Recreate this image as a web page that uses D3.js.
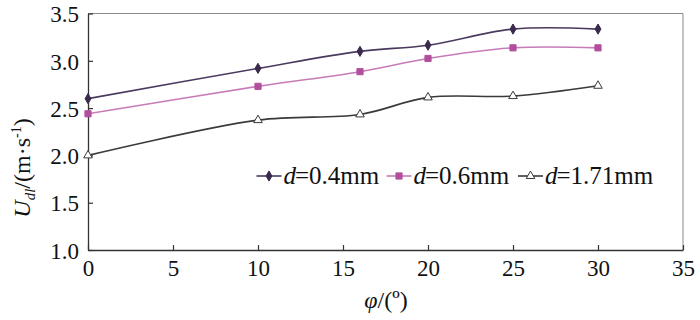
<!DOCTYPE html>
<html>
<head>
<meta charset="utf-8">
<script src="https://cdn.jsdelivr.net/npm/d3@7"></script>
<style>
  body { margin: 0; background: #fff; }
  text { font-family: "Liberation Serif", "Times New Roman", serif; }
</style>
</head>
<body>
<div id="chart"></div>
<script>
// angle values (deg)
var phi = [0, 10, 16, 20, 25, 30];
// U_dl for each droplet size
var u04 = [2.60, 2.92, 3.10, 3.165, 3.335, 3.335];
var u06 = [2.44, 2.73, 2.885, 3.025, 3.137, 3.137];
var u171 = [2.00, 2.373, 2.433, 2.613, 2.627, 2.736];
var seriesNames = ["0.4mm", "0.6mm", "1.71mm"];
var xTicks = [0, 5, 10, 15, 20, 25, 30, 35];
var yTicks = [1.0, 1.5, 2.0, 2.5, 3.0, 3.5];

var W = 700, H = 320;
var margin = {top: 13.5, right: 17, bottom: 70, left: 88},
    width = W - margin.left - margin.right,
    height = H - margin.top - margin.bottom;

var svg = d3.select("#chart")
  .append("svg")
    .attr("width", W)
    .attr("height", H)
  .append("g")
    .attr("transform", "translate(" + margin.left + "," + margin.top + ")");

var x = d3.scaleLinear().domain([0, 35]).range([0, width]);
var y = d3.scaleLinear().domain([1.0, 3.5]).range([height, 0]);

// box (top / right in grey)
svg.append("path")
  .attr("d", "M0,0H" + width + "V" + height)
  .attr("fill", "none")
  .attr("stroke", "#8a8a8a")
  .attr("stroke-width", 1);

var xAxis = svg.append("g")
  .attr("transform", "translate(0," + height + ")")
  .call(d3.axisBottom(x).tickValues(xTicks).tickSizeInner(-5).tickSizeOuter(0).tickPadding(9));
var yAxis = svg.append("g")
  .call(d3.axisLeft(y).tickValues(yTicks).tickFormat(d3.format(".1f")).tickSizeInner(-5).tickSizeOuter(0).tickPadding(9));

[xAxis, yAxis].forEach(function(a) {
  a.select(".domain").attr("stroke", "#333").attr("stroke-width", 1.3);
  a.selectAll(".tick line").attr("stroke", "#333").attr("stroke-width", 1.2);
  a.selectAll("text").attr("font-size", 23).attr("fill", "#111")
    .attr("font-family", "Liberation Serif, Times New Roman, serif");
});
yAxis.selectAll("text").attr("dy", "0.36em");
xAxis.selectAll("text").attr("dy", "0.72em");

var series = [
  {name: seriesNames[0], vals: u04, line: "#4a3a5e", mark: "#3a2a4e", shape: d3.symbolDiamond, size: 30, fill: "#3a2a4e"},
  {name: seriesNames[1], vals: u06, line: "#c77cb8", mark: "#b24f9c", shape: d3.symbolSquare, size: 38, fill: "#b24f9c"},
  {name: seriesNames[2], vals: u171, line: "#3a3a3a", mark: "#3a3a3a", shape: d3.symbolTriangle, size: 32, fill: "#fff"}
];

var line = d3.line()
  .x(function(d) { return x(d[0]); })
  .y(function(d) { return y(d[1]); })
  .curve(d3.curveCatmullRom.alpha(0.5));

series.forEach(function(s) {
  var pts = phi.map(function(p, i) { return [p, s.vals[i]]; });
  svg.append("path")
    .attr("d", line(pts))
    .attr("fill", "none")
    .attr("stroke", s.line)
    .attr("stroke-width", 1.6);
  svg.selectAll(null)
    .data(pts)
    .enter()
    .append("path")
      .attr("d", d3.symbol().type(s.shape).size(s.size))
      .attr("transform", function(d) { return "translate(" + x(d[0]) + "," + y(d[1]) + ")"; })
      .attr("fill", s.fill)
      .attr("stroke", s.mark)
      .attr("stroke-width", 1);
});

// legend
var legX = [256.5, 386.5, 518];
var legY = 176 - margin.top;
series.forEach(function(s, i) {
  var g = svg.append("g").attr("transform", "translate(" + (legX[i] - margin.left) + "," + legY + ")");
  g.append("line").attr("x1", 0).attr("x2", 25).attr("y1", 0).attr("y2", 0)
    .attr("stroke", s.line).attr("stroke-width", 1.6);
  g.append("path")
    .attr("d", d3.symbol().type(s.shape).size(s.size))
    .attr("transform", "translate(12.5,0)")
    .attr("fill", s.fill).attr("stroke", s.mark).attr("stroke-width", 1);
  var t = g.append("text").attr("x", 27).attr("y", 8).attr("font-size", 25).attr("fill", "#111");
  t.append("tspan").attr("font-style", "italic").text("d");
  t.append("tspan").attr("dx", -1).text("=" + s.name);
});

// axis titles
var yl = svg.append("text")
  .attr("transform", "translate(" + (30 - margin.left) + "," + (168 - margin.top) + ") rotate(-90)")
  .attr("text-anchor", "middle")
  .attr("font-size", 24)
  .attr("fill", "#111");
yl.append("tspan").attr("font-style", "italic").text("U");
yl.append("tspan").attr("font-style", "italic").attr("font-size", 15).attr("dy", 5).text("dl");
yl.append("tspan").attr("dy", -5).text("/(m·s");
yl.append("tspan").attr("font-size", 14).attr("dy", -9).text("-1");
yl.append("tspan").attr("dy", 9).text(")");

var xl = svg.append("text")
  .attr("x", 386 - margin.left)
  .attr("y", 308 - margin.top)
  .attr("text-anchor", "middle")
  .attr("font-size", 24)
  .attr("fill", "#111");
xl.append("tspan").attr("font-style", "italic").text("φ");
xl.append("tspan").text("/(º)");
</script>
</body>
</html>
